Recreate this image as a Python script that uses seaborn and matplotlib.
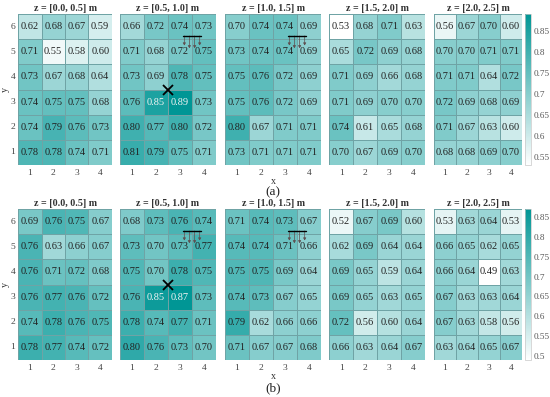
#!/usr/bin/env python3
"""Heatmap grids of values per z slice, two rows (a) and (b)."""

import numpy as np
import matplotlib.pyplot as plt
import matplotlib.colors as mcolors
import seaborn as sns

x_labels = [1, 2, 3, 4]
y_labels = [6, 5, 4, 3, 2, 1]
z_titles = ['z = [0.0, 0.5] m', 'z = [0.5, 1.0] m', 'z = [1.0, 1.5] m',
            'z = [1.5, 2.0] m', 'z = [2.0, 2.5] m']

# row (a), rows listed from y=6 down to y=1
a_z0 = [[0.62, 0.68, 0.67, 0.59], [0.71, 0.55, 0.58, 0.60], [0.73, 0.67, 0.68, 0.64],
        [0.74, 0.75, 0.75, 0.68], [0.74, 0.79, 0.76, 0.73], [0.78, 0.78, 0.74, 0.71]]
a_z1 = [[0.66, 0.72, 0.74, 0.73], [0.71, 0.68, 0.72, 0.75], [0.73, 0.69, 0.78, 0.75],
        [0.76, 0.85, 0.89, 0.73], [0.80, 0.77, 0.80, 0.72], [0.81, 0.79, 0.75, 0.71]]
a_z2 = [[0.70, 0.74, 0.74, 0.69], [0.73, 0.74, 0.74, 0.69], [0.75, 0.76, 0.72, 0.69],
        [0.75, 0.76, 0.72, 0.69], [0.80, 0.67, 0.71, 0.71], [0.73, 0.71, 0.71, 0.71]]
a_z3 = [[0.53, 0.68, 0.71, 0.63], [0.65, 0.72, 0.69, 0.68], [0.71, 0.69, 0.66, 0.68],
        [0.71, 0.69, 0.70, 0.70], [0.74, 0.61, 0.65, 0.68], [0.70, 0.67, 0.69, 0.70]]
a_z4 = [[0.56, 0.67, 0.70, 0.60], [0.70, 0.70, 0.71, 0.71], [0.71, 0.71, 0.64, 0.72],
        [0.72, 0.69, 0.68, 0.69], [0.71, 0.67, 0.63, 0.60], [0.68, 0.68, 0.69, 0.70]]

# row (b)
b_z0 = [[0.69, 0.76, 0.75, 0.67], [0.76, 0.63, 0.66, 0.67], [0.76, 0.71, 0.72, 0.68],
        [0.76, 0.77, 0.76, 0.72], [0.74, 0.78, 0.76, 0.75], [0.78, 0.77, 0.74, 0.72]]
b_z1 = [[0.68, 0.73, 0.76, 0.74], [0.73, 0.70, 0.73, 0.77], [0.75, 0.70, 0.78, 0.75],
        [0.76, 0.85, 0.87, 0.73], [0.78, 0.74, 0.77, 0.71], [0.80, 0.76, 0.73, 0.70]]
b_z2 = [[0.71, 0.74, 0.73, 0.67], [0.74, 0.74, 0.71, 0.66], [0.75, 0.75, 0.69, 0.64],
        [0.74, 0.73, 0.67, 0.65], [0.79, 0.62, 0.66, 0.66], [0.71, 0.67, 0.67, 0.68]]
b_z3 = [[0.52, 0.67, 0.69, 0.60], [0.62, 0.69, 0.64, 0.64], [0.69, 0.65, 0.59, 0.64],
        [0.69, 0.65, 0.63, 0.65], [0.72, 0.56, 0.60, 0.64], [0.66, 0.63, 0.64, 0.67]]
b_z4 = [[0.53, 0.63, 0.64, 0.53], [0.66, 0.65, 0.62, 0.65], [0.66, 0.64, 0.49, 0.63],
        [0.67, 0.63, 0.63, 0.64], [0.67, 0.63, 0.58, 0.56], [0.63, 0.64, 0.65, 0.67]]

a_ticks = [0.55, 0.6, 0.65, 0.7, 0.75, 0.8, 0.85]
b_ticks = [0.5, 0.55, 0.6, 0.65, 0.7, 0.75, 0.8, 0.85]

W, H = 550, 397
INK = '#333333'
cmap = mcolors.LinearSegmentedColormap.from_list('teal', ['#ffffff', '#009695'])

sns.set_theme(style='white')
plt.rcParams['font.family'] = ['Liberation Serif', 'DejaVu Serif']

fig = plt.figure(figsize=(W / 100, H / 100), dpi=100)


def box(left, top, right, bottom):
    # pixel box to figure fractions
    return [left / W, 1 - bottom / H, (right - left) / W, (bottom - top) / H]


panel_x = [(18, 112), (120, 216), (225, 321), (329, 425.5), (434, 522)]


def draw_load(ax):
    ax.plot([2.62, 3.38], [0.87, 0.87], color='black', lw=1.0, clip_on=False, zorder=5)
    for xa, end in zip([2.68, 2.89, 3.11, 3.32], [1.25, 1.36, 1.36, 1.25]):
        ax.annotate('', xy=(xa, end), xytext=(xa, 0.87), zorder=4,
                    arrowprops=dict(arrowstyle='-|>,head_width=0.07,head_length=0.12',
                                    color='#5f4f50', lw=0.5, shrinkA=0, shrinkB=0))


def draw_row(panels, ticks, top, bottom):
    vmin = min(np.min(p) for p in panels)
    vmax = max(np.max(p) for p in panels)
    for i, (vals, title) in enumerate(zip(panels, z_titles)):
        ax = fig.add_axes(box(panel_x[i][0], top, panel_x[i][1], bottom))
        sns.heatmap(np.array(vals), ax=ax, cmap=cmap, vmin=vmin, vmax=vmax, cbar=False,
                    annot=True, fmt='.2f', annot_kws={'fontsize': 7.5, 'color': '#222222'},
                    linewidths=0.4, linecolor='#6fa3a5',
                    xticklabels=x_labels, yticklabels=y_labels if i == 0 else False)
        # the strongest cells carry white text
        for txt in ax.texts:
            if float(txt.get_text()) >= 0.84:
                txt.set_color('#f4f4f4')
        ax.set_title(title, fontsize=7.2, fontweight='bold', color=INK, pad=2.2)
        ax.tick_params(axis='x', length=0, labelsize=6.8, labelcolor='#444444', pad=3.2)
        ax.tick_params(axis='y', length=0, labelsize=6.8, labelcolor='#444444', pad=2, rotation=0)
        ax.set_xlabel('x' if i == 2 else '', fontsize=7.2, color=INK, labelpad=-0.5)
        ax.set_ylabel('y' if i == 0 else '', fontsize=7.2, color=INK, labelpad=0.5)
        if i == 1:
            ax.plot([2], [3], marker='x', color='black', ms=7.5, mew=1.3, zorder=6, clip_on=False)
        if i in (1, 2):
            draw_load(ax)

    cax = fig.add_axes(box(525, top, 531, bottom))
    norm = mcolors.Normalize(vmin=vmin, vmax=vmax)
    cb = fig.colorbar(plt.cm.ScalarMappable(norm=norm, cmap=cmap), cax=cax, ticks=ticks)
    cb.ax.set_yticklabels([f'{t:g}' for t in ticks])
    cb.ax.tick_params(length=0, labelsize=6.6, labelcolor='#555555', pad=2.2)
    cb.outline.set_edgecolor('#c8c8c8')
    cb.outline.set_linewidth(0.5)


draw_row([a_z0, a_z1, a_z2, a_z3, a_z4], a_ticks, 14, 165)
draw_row([b_z0, b_z1, b_z2, b_z3, b_z4], b_ticks, 209, 360)

fig.text(273 / W, 1 - 192.5 / H, '(a)', fontsize=9.5, color='#222222', ha='center', va='center')
fig.text(273 / W, 1 - 388 / H, '(b)', fontsize=9.5, color='#222222', ha='center', va='center')

fig.savefig('out.png', dpi=100)
